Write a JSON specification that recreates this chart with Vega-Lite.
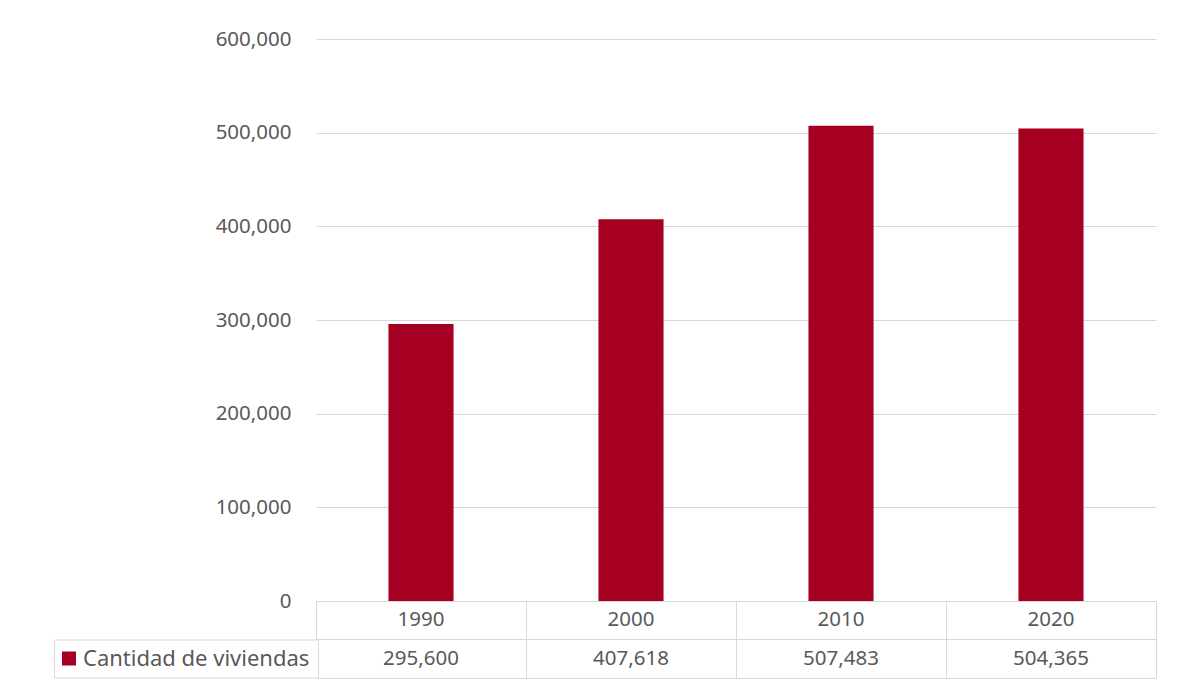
{
  "$schema": "https://vega.github.io/schema/vega-lite/v6.json",
  "padding": {"left": 53, "top": 29, "right": 22, "bottom": 10},
  "background": "white",
  "datasets": {
    "viviendas": [
      {"anio": "1990", "viviendas": 295600, "serie": "Cantidad de viviendas"},
      {"anio": "2000", "viviendas": 407618, "serie": "Cantidad de viviendas"},
      {"anio": "2010", "viviendas": 507483, "serie": "Cantidad de viviendas"},
      {"anio": "2020", "viviendas": 504365, "serie": "Cantidad de viviendas"}
    ]
  },
  "vconcat": [
    {
      "width": 840,
      "height": 562,
      "data": {"name": "viviendas"},
      "mark": {"type": "bar", "width": {"band": 0.31}},
      "encoding": {
        "x": {
          "field": "anio",
          "type": "nominal",
          "sort": null,
          "scale": {"paddingInner": 0, "paddingOuter": 0},
          "axis": null
        },
        "y": {
          "field": "viviendas",
          "type": "quantitative",
          "scale": {"domain": [0, 600000], "nice": false},
          "axis": {
            "title": null,
            "values": [0, 100000, 200000, 300000, 400000, 500000, 600000],
            "format": ",.0f",
            "domain": false,
            "ticks": false,
            "labelPadding": 25,
            "labelFontSize": 20.5,
            "labelColor": "#595959",
            "grid": true,
            "gridColor": "#d9d9d9",
            "gridWidth": 1
          }
        },
        "color": {
          "field": "serie",
          "type": "nominal",
          "scale": {"domain": ["Cantidad de viviendas"], "range": ["#a50021"]},
          "legend": {
            "title": null,
            "orient": "none",
            "legendX": -262,
            "legendY": 600.5,
            "padding": 8,
            "strokeColor": "#d9d9d9",
            "fillColor": "white",
            "symbolType": "square",
            "symbolSize": 196,
            "symbolStrokeWidth": 0,
            "symbolOffset": -4,
            "labelFontSize": 22,
            "labelColor": "#595959",
            "labelOffset": 3,
            "labelLimit": 0
          }
        }
      }
    },
    {
      "width": 840,
      "height": 77,
      "view": {"stroke": "#d9d9d9", "strokeWidth": 1},
      "data": {"name": "viviendas"},
      "layer": [
        {
          "mark": {"type": "text", "fontSize": 20.5, "color": "#595959"},
          "encoding": {
            "x": {"field": "anio", "type": "nominal", "sort": null},
            "y": {"datum": "Año", "type": "nominal"},
            "text": {"field": "anio", "type": "nominal"}
          }
        },
        {
          "mark": {"type": "text", "fontSize": 20.5, "color": "#595959"},
          "encoding": {
            "x": {"field": "anio", "type": "nominal", "sort": null},
            "y": {"datum": "Cantidad de viviendas", "type": "nominal"},
            "text": {"field": "viviendas", "type": "quantitative", "format": ","}
          }
        }
      ],
      "encoding": {
        "x": {
          "field": "anio",
          "type": "nominal",
          "sort": null,
          "scale": {"type": "band", "paddingInner": 0, "paddingOuter": 0},
          "axis": {
            "title": null,
            "labels": false,
            "ticks": false,
            "domain": false,
            "grid": true,
            "gridColor": "#d9d9d9",
            "bandPosition": 0
          }
        },
        "y": {
          "type": "nominal",
          "scale": {"type": "band", "domain": ["Año", "Cantidad de viviendas"], "paddingInner": 0, "paddingOuter": 0},
          "axis": {
            "title": null,
            "labels": false,
            "ticks": false,
            "domain": false,
            "grid": true,
            "gridColor": "#d9d9d9",
            "bandPosition": 0
          }
        }
      }
    }
  ],
  "spacing": 0,
  "bounds": "flush",
  "config": {
    "font": "Noto Sans",
    "view": {"stroke": null},
    "axis": {"labelFont": "Noto Sans"},
    "legend": {"labelFont": "Noto Sans"}
  }
}
